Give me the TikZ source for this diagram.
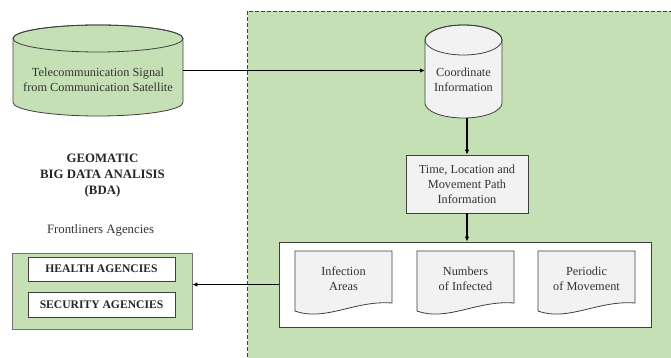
\documentclass[tikz,border=0pt]{standalone}
\usepackage{fontspec}
\setmainfont{Liberation Serif}
\usetikzlibrary{arrows.meta}
\definecolor{lgreen}{HTML}{C5E0B4}
\definecolor{lgray}{HTML}{F2F2F2}
\definecolor{edge}{HTML}{404040}
\begin{document}
\begin{tikzpicture}[x=1pt,y=-1pt,
  txt/.style={font=\fontsize{12.3}{15}\selectfont, align=center, text=black!80, inner sep=0pt},
  btxt/.style={font=\fontsize{12.8}{16}\selectfont\bfseries, align=center, text=black!85, inner sep=0pt},
  shp/.style={draw=edge, line width=0.8pt},
  arr/.style={line width=1.4pt, -{Latex[length=5pt,width=4.5pt]}},
  frame/.style={inner sep=0pt, outer sep=0pt}]
\useasboundingbox (0,0) rectangle (671,358);
\fill[white] (0,0) rectangle (671,358);
% green region
\filldraw[fill=lgreen, draw=black!75, line width=0.7pt, dash pattern=on 4pt off 2pt] (247.5,11) rectangle (680,370);

% left cylinder
\filldraw[shp, fill=lgreen] (13,38.5) -- (13,102.5) arc[start angle=180, end angle=360, x radius=85pt, y radius=13.5pt] -- (183,38.5) arc[start angle=0, end angle=180, x radius=85pt, y radius=13.5pt] -- cycle;
\draw[shp] (98,38.5) ellipse[x radius=85pt, y radius=13.5pt];
\node[frame, minimum width=170pt, minimum height=91pt] (sat) at (98,70.5) {};
\node[txt] (satT) at (98,79.5) {Telecommunication Signal\\from Communication Satellite};

% coordinate cylinder
\filldraw[shp, fill=lgray] (425,40) -- (425,103) arc[start angle=180, end angle=360, x radius=38.5pt, y radius=15pt] -- (502,40) arc[start angle=0, end angle=180, x radius=38.5pt, y radius=15pt] -- cycle;
\draw[shp] (463.5,40) ellipse[x radius=38.5pt, y radius=15pt];
\node[frame, minimum width=77pt, minimum height=93pt] (coord) at (463.5,71.5) {};
\node[txt] (coordT) at (463.5,79.5) {Coordinate\\Information};

% time box
\node[shp, fill=lgray, minimum width=122pt, minimum height=58pt, txt, draw=edge] (time) at (467,184) {Time, Location and\\Movement Path\\Information};

% big white box
\node[shp, fill=white, minimum width=372pt, minimum height=85pt, inner sep=0pt] (big) at (465,284.5) {};

% documents
\foreach \x/\n/\t in {295/doc1/{Infection\\Areas}, 417/doc2/{Numbers\\of Infected}, 538/doc3/{Periodic\\of Movement}}{
  \filldraw[shp, fill=lgray] (\x,251) -- (\x+97,251) -- (\x+97,303) .. controls (\x+60,300) and (\x+30,322) .. (\x,311) -- cycle;
  \node[txt] (\n) at (\x+48.5,279) {\t};
}

% left texts
\node[btxt] (geo) at (102.5,176) {GEOMATIC\\BIG DATA ANALISIS\\(BDA)};
\node[txt, font=\fontsize{12.8}{15}\selectfont] (front) at (100.5,230) {Frontliners Agencies};

% agencies
\node[shp, fill=lgreen, draw=black!55, minimum width=180pt, minimum height=76pt, inner sep=0pt] (agen) at (102,291) {};
\node[shp, fill=white, minimum width=147pt, minimum height=24pt, btxt, font=\fontsize{11.6}{14}\selectfont\bfseries, draw=edge] (health) at (101.5,269) {HEALTH AGENCIES};
\node[shp, fill=white, minimum width=147pt, minimum height=25pt, btxt, font=\fontsize{11.6}{14}\selectfont\bfseries, draw=edge] (secur) at (101.5,304.5) {SECURITY AGENCIES};

% connectors
\draw[arr] (sat.east) -- (sat.east -| coord.west);
\draw[arr] (time.north |- coord.south) -- (time.north);
\draw[arr] (time.south) -- (time.south |- big.north);
\draw[arr] (big.west) -- (big.west -| agen.east);
\end{tikzpicture}
\end{document}
